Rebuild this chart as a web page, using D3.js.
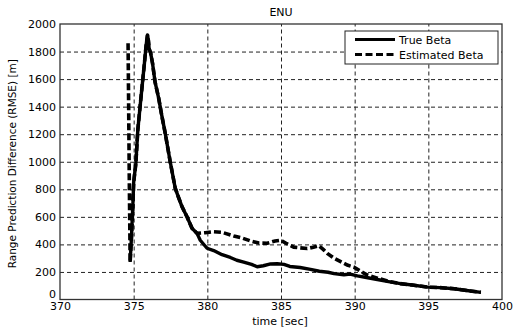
<!DOCTYPE html>
<html><head><meta charset="utf-8">
<script src="https://cdn.jsdelivr.net/npm/d3@7"></script>
<style>
body{margin:0;background:#fff;}
text{font-family:"DejaVu Sans",Verdana,sans-serif;fill:#000;}
</style></head>
<body><svg id="c" width="513" height="331"></svg>
<script>
const chartTitle = "ENU";
const xLabel = "time [sec]";
const yLabel = "Range Prediction Difference (RMSE) [m]";
const xTicks = [370,375,380,385,390,395,400];
const yTicks = [0,200,400,600,800,1000,1200,1400,1600,1800,2000];
const seriesNames = ["True Beta","Estimated Beta"];

const trueTime = [374.76,374.85,374.95,375.0,375.15,375.28,375.5,375.73,375.85,375.94,376.0,376.05,376.15,376.28,376.45,376.7,376.9,377.14,377.48,377.82,378.05,378.28,378.62,378.96,379.3,379.52,379.98,380.43,381.0,381.56,382.0,382.47,383.0,383.38,383.8,384.29,384.74,385.2,385.6,386.3,387.0,387.6,388.2,388.6,389.27,389.7,390.18,390.8,391.54,392.3,393.1,393.9,394.95,395.8,396.76,397.6,398.57];
const trueValue = [272,450,700,850,990,1230,1470,1715,1850,1920,1880,1820,1790,1715,1580,1460,1340,1208,1000,809,740,674,601,517,480,430,372,355,325,305,285,272,255,238,245,258,260,255,240,232,219,205,198,188,180,185,171,160,145,130,115,105,90,86,78,65,52];

const estTime = [374.62,374.66,374.7,374.74,374.76,374.85,374.95,375.0,375.15,375.28,375.5,375.73,375.85,375.94,376.0,376.05,376.15,376.28,376.45,376.7,376.9,377.14,377.48,377.82,378.05,378.28,378.62,378.96,379.3,379.86,380.4,381.0,381.8,382.4,382.93,383.5,384.06,384.6,384.97,385.4,385.87,386.3,386.78,387.2,387.57,387.9,388.14,388.6,389.05,389.5,389.95,390.4,390.86,391.54,392.3,393.1,393.9,394.95,395.8,396.76,397.6,398.57];
const estValue = [1860,1400,900,500,272,450,700,850,990,1230,1470,1715,1850,1920,1880,1820,1790,1715,1580,1460,1340,1208,1000,809,740,674,601,517,480,485,492,488,461,445,425,410,408,425,430,405,380,375,370,380,390,360,335,300,275,250,235,205,178,155,132,115,105,90,86,78,65,52];

const svg = d3.select("#c");
const m = {l:60, r:502, t:24, b:299.5};
const x = d3.scaleLinear().domain([370,400]).range([m.l, m.r]);
const y = d3.scaleLinear().domain([0,2000]).range([m.b, m.t]);

// grid
const gx = svg.append("g").attr("transform",`translate(0,${m.b})`)
  .call(d3.axisBottom(x).tickValues(xTicks.slice(1,-1)).tickSize(-(m.b-m.t)).tickFormat(""));
gx.select(".domain").remove();
gx.selectAll("line").attr("stroke","#222").attr("stroke-width",1).attr("stroke-dasharray","4,3");
const gy = svg.append("g").attr("transform",`translate(${m.l},0)`)
  .call(d3.axisLeft(y).tickValues(yTicks.slice(1,-1)).tickSize(-(m.r-m.l)).tickFormat(""));
gy.select(".domain").remove();
gy.selectAll("line").attr("stroke","#222").attr("stroke-width",1).attr("stroke-dasharray","4,3");

// axes labels
const ax = svg.append("g").attr("transform",`translate(0,${m.b})`)
  .call(d3.axisBottom(x).tickValues(xTicks).tickSize(0).tickPadding(3).tickFormat(d3.format("d")));
ax.select(".domain").remove();
ax.selectAll("text").attr("font-size",11).attr("font-family","DejaVu Sans, sans-serif");
const ay = svg.append("g").attr("transform",`translate(${m.l},0)`)
  .call(d3.axisLeft(y).tickValues(yTicks).tickSize(0).tickPadding(4).tickFormat(d3.format("d")));
ay.select(".domain").remove();
ay.selectAll("text").attr("font-size",11).attr("font-family","DejaVu Sans, sans-serif");
ay.selectAll(".tick").filter(d=>d===0).select("text").attr("dy","-0.22em");

// lines
const line = d3.line().x(d=>x(d[0])).y(d=>y(d[1]));
const trueData = trueTime.map((t,i)=>[t,trueValue[i]]);
const estData = estTime.map((t,i)=>[t,estValue[i]]);
svg.append("path").datum(trueData).attr("d",line).attr("fill","none")
  .attr("stroke","#000").attr("stroke-width",3.4).attr("stroke-linejoin","round");
svg.append("path").datum(estData).attr("d",line).attr("fill","none")
  .attr("stroke","#000").attr("stroke-width",3.6).attr("stroke-dasharray","7,3");

// frame
svg.append("rect").attr("x",m.l).attr("y",m.t).attr("width",m.r-m.l).attr("height",m.b-m.t)
  .attr("fill","none").attr("stroke","#333").attr("stroke-width",1.3);

// titles
svg.append("text").attr("x",(m.l+m.r)/2).attr("y",16).attr("text-anchor","middle")
  .attr("font-size",11).text(chartTitle);
svg.append("text").attr("x",(m.l+m.r)/2-1).attr("y",324.5).attr("text-anchor","middle")
  .attr("font-size",11).text(xLabel);
svg.append("text").attr("transform",`translate(16,${(m.t+m.b)/2+2}) rotate(-90)`)
  .attr("text-anchor","middle").attr("font-size",10.5)
  .attr("font-family","Liberation Sans, Arial, sans-serif").text(yLabel);

// legend
const lg = svg.append("g");
lg.append("rect").attr("x",345).attr("y",31).attr("width",153).attr("height",33)
  .attr("fill","#fff").attr("stroke","#222").attr("stroke-width",1);
const dashes = [null,"7,3.5"];
seriesNames.forEach((s,i)=>{
  const yy = 39.5 + i*15;
  lg.append("line").attr("x1",355).attr("x2",395).attr("y1",yy).attr("y2",yy)
    .attr("stroke","#000").attr("stroke-width",3).attr("stroke-dasharray",dashes[i]);
  lg.append("text").attr("x",399).attr("y",yy+4).attr("font-size",11).text(s);
});
</script></body></html>
